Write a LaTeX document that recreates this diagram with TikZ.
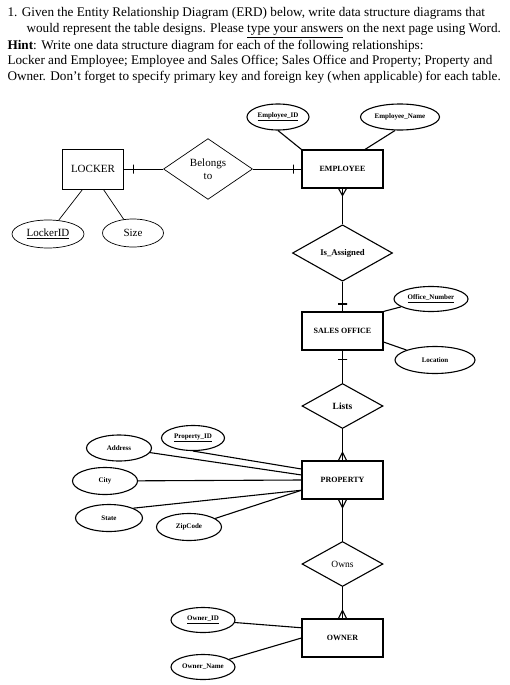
\documentclass[tikz,border=0pt]{standalone}
\usepackage{fontspec}
\setmainfont{Liberation Serif}
\usetikzlibrary{positioning, shapes.geometric, calc}

% crow's foot at a box side: #1 anchor, #2 length (sign gives side)
\newcommand{\crowfoot}[2]{%
  \draw ($(#1)+(-4,0)$) -- ($(#1)+(0,#2)$) -- ($(#1)+(4,0)$);}

\begin{document}
\begin{tikzpicture}[
        x=1pt, y=-1pt, line width=1.1pt,
        header/.style={anchor=base west, inner sep=0pt,
            font=\fontsize{13.2}{15}\selectfont},
        entity/.style={draw, minimum width=81pt, minimum height=38pt,
            inner sep=1pt, font=\fontsize{8}{9}\selectfont\bfseries},
        relation/.style={draw, diamond, inner sep=1pt, align=center,
            font=\fontsize{8.7}{10}\selectfont\bfseries},
        attr/.style={draw, ellipse, inner sep=0pt, minimum height=26pt,
            font=\fontsize{7}{8}\selectfont\bfseries},
        plain/.style={line width=0.7pt, font=\fontsize{11}{13}\selectfont},
        tick/.style={draw, inner sep=0pt, minimum width=0pt,
            minimum height=9pt, sloped},
    ]
    \useasboundingbox (0,0) rectangle (509,685);

    % question text
    \node[header] (q1) at (7,17) {1. Given the Entity Relationship Diagram (ERD) below, write data structure diagrams that};
    \node[header] (q2) at (26,33) {would represent the table designs. Please \underline{type your answers} on the next page using Word.};
    \node[header] (q3) at (7,49) {\textbf{Hint}: Write one data structure diagram for each of the following relationships:};
    \node[header] (q4) at (7,65) {Locker and Employee; Employee and Sales Office; Sales Office and Property; Property and};
    \node[header] (q5) at (7,81) {Owner. Don{\char"0027}t forget to specify primary key and foreign key (when applicable) for each table.};

    % locker part
    \node[draw, plain, minimum width=61pt, minimum height=40pt] (locker) at (93,169) {LOCKER};
    \node[relation, plain, minimum width=89pt, minimum height=60pt] (belongs) at (208,169) {Belongs\\to};
    \node[attr, plain, minimum width=72pt, minimum height=28pt] (lockerid) at (48,234) {\underline{LockerID}};
    \node[attr, plain, minimum width=61pt, minimum height=28pt] (size) at (133,233) {Size};

    % employee
    \node[entity] (emp) at (342.5,169) {EMPLOYEE};
    \node[attr, minimum width=62pt] (empid) at (278,117) {\underline{Employee\_ID}};
    \node[attr, minimum width=79pt] (empname) at (400,117) {Employee\_Name};
    \node[relation, minimum width=100pt, minimum height=46pt] (assign) at (342.5,253) {Is\_Assigned};

    % sales office
    \node[entity] (office) at (342.5,331) {SALES OFFICE};
    \node[attr, minimum width=74pt, minimum height=25pt] (officeno) at (431,299) {\underline{Office\_Number}};
    \node[attr, minimum width=80pt, minimum height=27pt] (location) at (435,360) {Location};
    \node[relation, minimum width=81pt, minimum height=45pt, font=\fontsize{9.5}{11}\selectfont\bfseries] (lists) at (342.5,406) {Lists};

    % property
    \node[entity] (prop) at (342.5,480) {PROPERTY};
    \node[attr, minimum width=63pt, minimum height=25pt] (propid) at (193,438) {\underline{Property\_ID}};
    \node[attr, minimum width=65pt] (address) at (119,448) {Address};
    \node[attr, minimum width=65pt, minimum height=27pt] (city) at (105,481) {City};
    \node[attr, minimum width=67pt, minimum height=27pt] (state) at (109,518) {State};
    \node[attr, minimum width=65pt, minimum height=27pt] (zip) at (189,527) {ZipCode};
    \node[relation, minimum width=81pt, minimum height=45pt, font=\fontsize{9.5}{11}\selectfont] (owns) at (342.5,564) {Owns};

    % owner
    \node[entity] (owner) at (342.5,638) {OWNER};
    \node[attr, minimum width=64pt, minimum height=25pt] (ownerid) at (203,620) {\underline{Owner\_ID}};
    \node[attr, minimum width=64pt, minimum height=25pt] (ownername) at (203,667) {Owner\_Name};

    % relationships
    \draw[line width=0.7pt] (locker) -- node[tick, pos=0.24] {} (belongs);
    \draw[line width=0.7pt] (belongs) -- node[tick, pos=0.84] {} (emp);
    \draw (emp) -- (assign);
    \crowfoot{emp.south}{7}
    \draw (assign) -- node[tick, pos=0.75] {} (office);
    \draw (office) -- node[tick, pos=0.27] {} (lists);
    \draw (lists) -- (prop);
    \crowfoot{prop.north}{-8}
    \draw (prop) -- (owns);
    \crowfoot{prop.south}{8}
    \draw (owns) -- (owner);
    \crowfoot{owner.north}{-8}

    % attributes
    \draw[line width=0.7pt] (locker.243) -- (lockerid);
    \draw[line width=0.7pt] (locker.297) -- (size);
    \draw (empid.south) -- (emp.north west);
    \draw (empname.250) -- (emp.41);
    \draw (officeno) -- (office.north east);
    \draw (location) -- (office.345);
    \draw (propid.south) -- (prop.165);
    \draw (address) -- (prop.173);
    \draw (city) -- (prop.west);
    \draw (state.22) -- (prop.194);
    \draw (zip) -- (prop.194);
    \draw (ownerid) -- (owner.166);
    \draw (ownername) -- (owner.west);
\end{tikzpicture}
\end{document}
